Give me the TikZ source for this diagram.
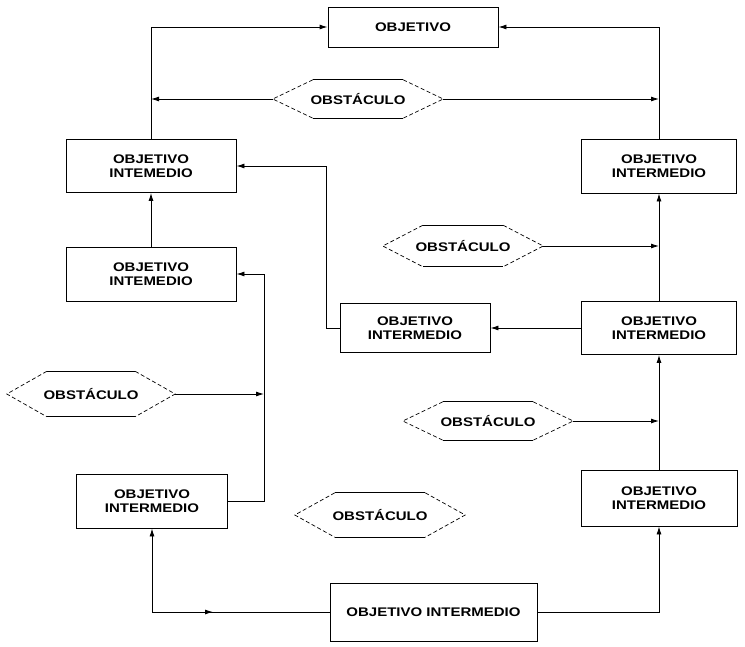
\documentclass[tikz,border=0pt]{standalone}
\usepackage{fontspec}
\newfontfamily\lblfont{Liberation Sans Bold}[FakeStretch=1.2]
\usetikzlibrary{arrows.meta,calc}

% flat edges of an obstacle hexagon are solid, slanted edges dashed
\newcommand\hexsides[1]{%
  \draw[flat] ([xshift=40pt]#1.north west) -- ([xshift=-40pt]#1.north east);
  \draw[flat] ([xshift=40pt]#1.south west) -- ([xshift=-40pt]#1.south east);
  \draw[slant] ([xshift=40pt]#1.north west) -- (#1.west) -- ([xshift=40pt]#1.south west);
  \draw[slant] ([xshift=-40pt]#1.north east) -- (#1.east) -- ([xshift=-40pt]#1.south east);}

\begin{document}
\begin{tikzpicture}[x=1pt,y=-1pt,
  lbl/.style={font=\lblfont\fontsize{12.5}{14}\selectfont, align=center, inner sep=0pt},
  box/.style={lbl, draw, line width=0.9pt},
  obst/.style={lbl, minimum width=170pt, minimum height=40pt},
  flat/.style={line width=1pt},
  slant/.style={line width=0.7pt, dash pattern=on 4pt off 2.5pt},
  conn/.style={line width=0.9pt},
  arr/.style={-{Latex[length=8pt,width=5pt]}}]
\useasboundingbox (0,0) rectangle (745,646);

% goal boxes
\node[box, minimum width=170pt, minimum height=40pt] (obj) at (413,27) {OBJETIVO};
\node[box, minimum width=170pt, minimum height=53pt] (l1) at (151,166) {OBJETIVO\\INTEMEDIO};
\node[box, minimum width=170pt, minimum height=54pt] (l2) at (151,274) {OBJETIVO\\INTEMEDIO};
\node[box, minimum width=151pt, minimum height=54pt] (l3) at (152,501) {OBJETIVO\\INTERMEDIO};
\node[box, minimum width=150pt, minimum height=49pt] (m) at (415,328) {OBJETIVO\\INTERMEDIO};
\node[box, minimum width=155pt, minimum height=54pt] (r1) at (659,166) {OBJETIVO\\INTERMEDIO};
\node[box, minimum width=155pt, minimum height=53pt] (r2) at (659,328) {OBJETIVO\\INTERMEDIO};
\node[box, minimum width=156pt, minimum height=56pt] (r3) at (659,498) {OBJETIVO\\INTERMEDIO};
\node[box, minimum width=207pt, minimum height=58pt] (b) at (433.5,612) {OBJETIVO INTERMEDIO};

% obstacles
\node[obst, minimum height=38pt] (o1) at (358,99) {OBSTÁCULO};
\node[obst, minimum width=160pt, minimum height=41pt] (o2) at (463,246) {OBSTÁCULO};
\node[obst, minimum width=168pt, minimum height=45pt] (o3) at (91,394) {OBSTÁCULO};
\node[obst, minimum height=38pt] (o4) at (488,421) {OBSTÁCULO};
\node[obst, minimum height=44pt] (o5) at (380,515) {OBSTÁCULO};
\hexsides{o1}
\hexsides{o2}
\hexsides{o3}
\hexsides{o4}
\hexsides{o5}

% helper points for bends
\coordinate (mbend) at (326,328);
\coordinate (lbend) at (264,501);
\coordinate (bmid) at (213,612);

% connectors
\draw[conn,arr] (l1.north) |- (obj.west);
\draw[conn,arr] (r1.north) |- (obj.east);
\draw[conn,arr] (o1.west) -- (o1.west -| l1.north);
\draw[conn,arr] (o1.east) -- (o1.east -| r1.north);
\draw[conn,arr] (l2.north) -- (l1.south);
\draw[conn,arr] (m.west) -- (mbend) |- (l1.east);
\draw[conn,arr] (r2.west) -- (m.east);
\draw[conn,arr] (r2.north) -- (r1.south);
\draw[conn,arr] (o2.east) -- (o2.east -| r1.south);
\draw[conn,arr] (l3.east) -- (lbend) |- (l2.east);
\draw[conn,arr] (o3.east) -- (o3.east -| lbend);
\draw[conn,arr] (r3.north) -- (r2.south);
\draw[conn,arr] (o4.east) -- (o4.east -| r2.south);
\draw[conn,arr] (b.west) -| (l3.south);
\draw[conn,arr] (b.west -| l3.south) -- (bmid);
\draw[conn,arr] (b.east) -| (r3.south);
\end{tikzpicture}
\end{document}
